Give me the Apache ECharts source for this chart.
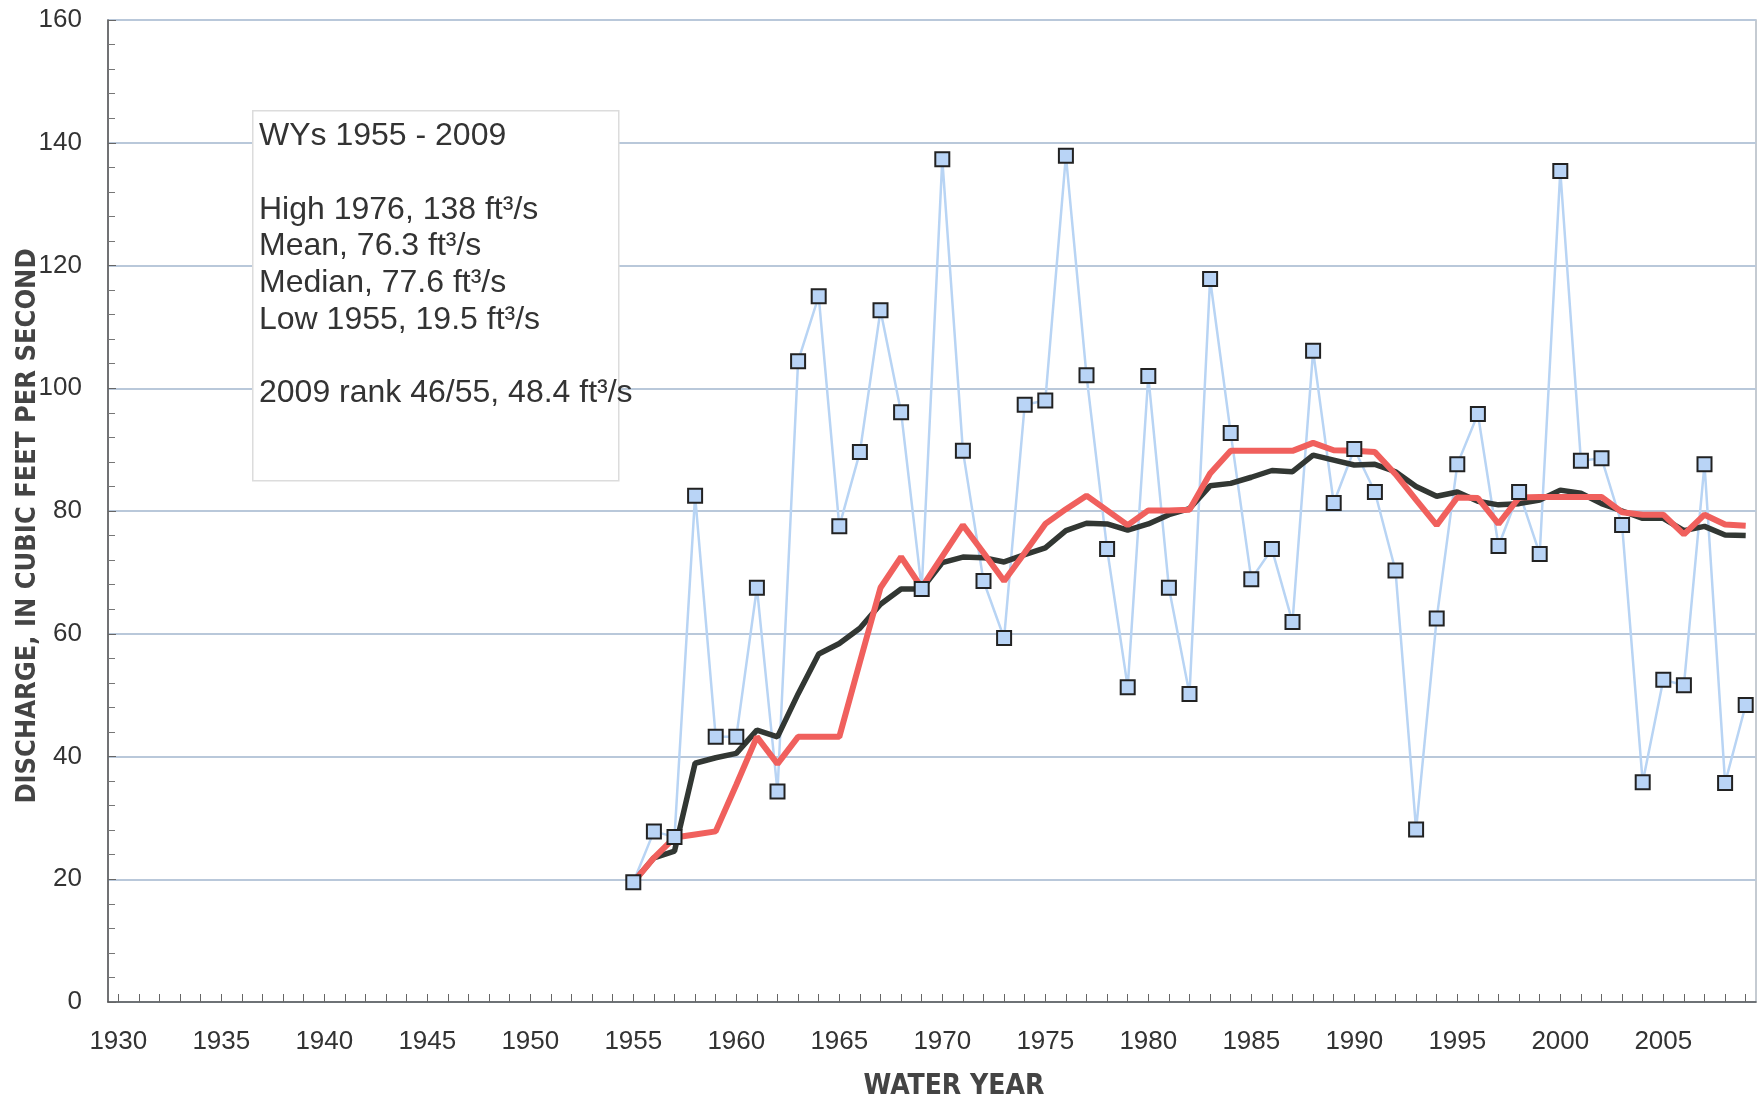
<!DOCTYPE html>
<html>
<head>
<meta charset="utf-8">
<script src="https://cdn.jsdelivr.net/npm/echarts@6/dist/echarts.min.js"></script>
<style>
html,body{margin:0;padding:0;background:#fff;}
#chart{width:1758px;height:1098px;}
</style>
</head>
<body>
<div id="chart"></div>
<script>
// Water years
const years = [1955,1956,1957,1958,1959,1960,1961,1962,1963,1964,
  1965,1966,1967,1968,1969,1970,1971,1972,1973,1974,
  1975,1976,1977,1978,1979,1980,1981,1982,1983,1984,
  1985,1986,1987,1988,1989,1990,1991,1992,1993,1994,
  1995,1996,1997,1998,1999,2000,2001,2002,2003,2004,
  2005,2006,2007,2008,2009];
// Annual mean discharge, ft3/s
const discharge = [19.5,27.8,26.9,82.5,43.2,43.2,67.5,34.3,104.4,115.0,
  77.5,89.6,112.7,96.1,67.3,137.3,89.8,68.6,59.3,97.3,
  98.0,137.9,102.1,73.8,51.3,102.0,67.5,50.2,117.8,92.7,
  68.9,73.8,61.9,106.1,81.3,90.1,83.1,70.3,28.1,62.5,
  87.6,95.8,74.3,83.1,73.0,135.4,88.2,88.6,77.7,35.8,
  52.5,51.6,87.6,35.7,48.4];
// Dark (black) line
const blackLine = [19.5,23.5,24.6,38.9,39.8,40.5,44.3,43.2,50.2,56.7,
  58.4,60.9,64.8,67.3,67.3,71.6,72.5,72.4,71.7,72.9,
  74.0,76.8,78.0,77.9,76.9,77.9,79.4,80.4,84.1,84.5,
  85.5,86.6,86.4,89.1,88.3,87.5,87.6,86.4,84.0,82.4,
  83.1,81.6,81.0,81.2,81.8,83.4,82.9,81.2,80.0,78.8,
  78.8,76.8,77.5,76.1,76.0];
// Red line
const redLine = [19.5,23.5,26.8,27.3,27.8,35.4,43.2,38.8,43.2,43.2,
  43.2,55.4,67.5,72.5,67.5,72.6,77.7,73.2,68.6,73.2,
  77.9,80.3,82.5,80.1,77.7,80.1,80.1,80.2,86.1,89.8,
  89.8,89.8,89.8,91.1,89.9,89.8,89.6,86.0,81.8,77.7,
  82.2,82.1,77.9,82.2,82.3,82.3,82.3,82.3,79.8,79.4,
  79.4,76.2,79.4,77.8,77.6];
// Axis ticks / labels
const xLabelYears = [1930,1935,1940,1945,1950,1955,1960,1965,1970,1975,1980,1985,1990,1995,2000,2005];
const xTickYears = [];
for (let y = 1930; y <= 2009; y++) xTickYears.push(y);
const noteText = "WYs 1955 - 2009\n\nHigh 1976, 138 ft\u00B3/s\nMean, 76.3 ft\u00B3/s\nMedian, 77.6 ft\u00B3/s\nLow 1955, 19.5 ft\u00B3/s\n\n2009 rank 46/55, 48.4 ft\u00B3/s";

const pairs = arr => years.map((y, i) => [y, arr[i]]);

const chart = echarts.init(document.getElementById('chart'), null, {renderer: 'canvas'});
const narrow = "'Liberation Sans Narrow', 'DejaVu Sans Condensed', 'Arial Narrow', sans-serif";
chart.setOption({
  animation: false,
  backgroundColor: '#ffffff',
  grid: {left: 108, right: 2, top: 20, bottom: 96, outerBoundsMode: 'none', containLabel: false,
         show: true, borderColor: '#b3bac4', borderWidth: 1.5, backgroundColor: 'transparent'},
  xAxis: {
    type: 'value', min: 1929.5, max: 2009.5,
    name: 'WATER YEAR', nameLocation: 'middle', nameGap: 71,
    nameTextStyle: {fontFamily: narrow, fontWeight: 'bold', fontSize: 28, color: '#444', padding: [0, 0, 0, 44]},
    axisLine: {show: true, onZero: false, lineStyle: {color: '#555', width: 1.5}},
    axisTick: {show: true, inside: true, length: 8, customValues: xTickYears, lineStyle: {color: '#666', width: 1}},
    axisLabel: {customValues: xLabelYears, fontFamily: 'Liberation Sans, Arial, sans-serif', fontSize: 26, color: '#333', margin: 27, formatter: v => String(v)},
    splitLine: {show: false}
  },
  yAxis: {
    type: 'value', min: 0, max: 160, interval: 20,
    name: 'DISCHARGE, IN CUBIC FEET PER SECOND', nameLocation: 'middle', nameGap: 67,
    nameMoveOverlap: false,
    nameTextStyle: {fontFamily: narrow, fontWeight: 'bold', fontSize: 27, color: '#444', padding: [0, 30, 0, 0]},
    axisLine: {show: true, lineStyle: {color: '#555', width: 1.5}},
    axisTick: {show: true, inside: true, length: 8, lineStyle: {color: '#666'}},
    minorTick: {show: true, splitNumber: 5, length: 7, lineStyle: {color: '#777'}},
    axisLabel: {fontFamily: 'Liberation Sans, Arial, sans-serif', fontSize: 26, color: '#333', margin: 26},
    splitLine: {show: true, lineStyle: {color: '#b9c8da', width: 2}}
  },
  graphic: [
    {type: 'rect', z: 100, left: 252, top: 110, shape: {width: 366, height: 370},
     style: {fill: '#ffffff', stroke: '#dcdcdc', lineWidth: 1.5}},
    {type: 'text', z: 101, left: 259, top: 118,
     style: {text: noteText, font: '32px "Liberation Sans", Arial, sans-serif', fill: '#333', lineHeight: 36.7}}
  ],
  series: [
    {type: 'line', data: pairs(discharge), showSymbol: false, symbol: 'none', z: 2,
     lineStyle: {color: '#b8d4f4', width: 2.5}},
    {type: 'line', data: pairs(blackLine), symbol: 'none', z: 3,
     lineStyle: {color: '#323733', width: 5.5}},
    {type: 'line', data: pairs(redLine), symbol: 'none', z: 4,
     lineStyle: {color: '#f0605d', width: 6}},
    {type: 'scatter', data: pairs(discharge), symbol: 'rect', symbolSize: 14, z: 5,
     itemStyle: {color: '#b9d4f6', borderColor: '#222', borderWidth: 2, opacity: 1}}
  ]
});
</script>
</body>
</html>
